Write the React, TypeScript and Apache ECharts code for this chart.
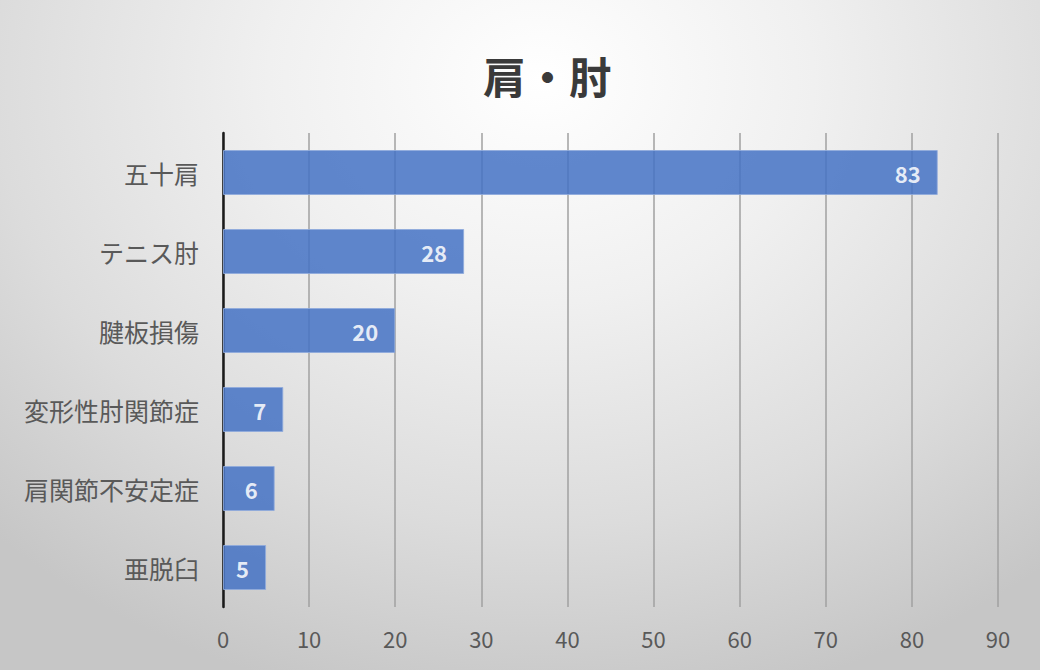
import React, { useEffect, useRef } from "react";
import * as echarts from "echarts";

const titleText = "肩・肘";
const categories = ["五十肩", "テニス肘", "腱板損傷", "変形性肘関節症", "肩関節不安定症", "亜脱臼"];
const values = [83, 28, 20, 7, 6, 5];
const axisMin = 0;
const axisMax = 90;
const axisInterval = 10;

const FONT = '"Noto Sans CJK JP", "Noto Sans", sans-serif';

export default function App() {
  const ref = useRef<HTMLDivElement>(null);
  useEffect(() => {
    if (!ref.current) return;
    const chart = echarts.init(ref.current, null, { renderer: "svg" });
    chart.setOption({
      animation: false,
      backgroundColor: "transparent",
      title: {
        text: titleText,
        left: 478,
        top: 48,
        textStyle: { fontFamily: FONT, fontSize: 43, fontWeight: "bold", color: "#3a3a3a" },
      },
      grid: { left: 223, right: 42, top: 133, bottom: 63, containLabel: false },
      xAxis: {
        type: "value",
        min: axisMin,
        max: axisMax,
        interval: axisInterval,
        axisLine: { show: false },
        axisTick: { show: false },
        axisLabel: { fontFamily: FONT, fontSize: 22, color: "#595959", margin: 20 },
        splitLine: { show: true, lineStyle: { color: "#a0a0a0", width: 1.5 } },
      },
      yAxis: {
        type: "category",
        data: categories,
        inverse: true,
        axisLine: { show: true, lineStyle: { color: "#1a1a1a", width: 2.5 } },
        axisTick: { show: false },
        axisLabel: { fontFamily: FONT, fontSize: 25, color: "#595959", margin: 24 },
        splitLine: { show: false },
      },
      series: [
        {
          type: "bar",
          data: values,
          barWidth: 45,
          itemStyle: { color: "#4472C4", opacity: 0.85, borderColor: "#8faadc", borderWidth: 1 },
          label: {
            show: true,
            position: "insideRight",
            distance: 17,
            fontFamily: FONT,
            fontSize: 22,
            fontWeight: "bold",
            color: "#ffffff",
          },
        },
      ],
    });
    return () => chart.dispose();
  }, []);
  return (
    <div
      style={{
        position: "absolute",
        left: 0,
        top: 0,
        width: 1040,
        height: 670,
        background:
          "radial-gradient(ellipse 75% 95% at 52% 12%, #ffffff 0%, #f0f0f0 35%, #dcdcdc 70%, #c6c6c6 100%)",
      }}
    >
      <div ref={ref} style={{ width: 1040, height: 670 }} />
    </div>
  );
}
